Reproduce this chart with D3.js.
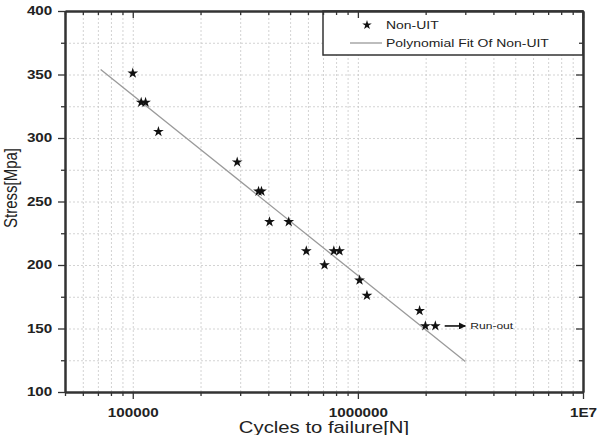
<!DOCTYPE html>
<meta charset="utf-8">
<script src="https://cdn.jsdelivr.net/npm/d3@7"></script>
<style>
body { margin: 0; background: #fff; }
text { font-family: "Liberation Sans", Arial, sans-serif; fill: #222; }
</style>
<body>
<script>

var width = 601
var height = 435
var sx = 1.27   // the source picture is stretched sideways, text too

// measured points
var cycles = [100000, 109000, 114000, 130000, 291000, 362000, 373000, 405000, 493000,
              590000, 711000, 782000, 829000, 1017000, 1097000, 1880000, 1994000, 2208000]
var stress = [351, 328, 328, 305, 281, 258, 258, 234, 234,
              211, 200, 211, 211, 188, 176, 164, 152, 152]

// fitted line ends
var fitCycles = [72000, 3000000]
var fitStress = [354, 124]

// run-out arrow
var runoutCycles = [2430000, 3000000]
var runoutStress = 152
var runoutLabel = "Run-out"

var xMajor = [100000, 1000000, 10000000]
var xMajorLabels = ["100000", "1000000", "1E7"]
var xMinor = [50000, 60000, 70000, 80000, 90000,
              200000, 300000, 400000, 500000, 600000, 700000, 800000, 900000,
              2000000, 3000000, 4000000, 5000000, 6000000, 7000000, 8000000, 9000000]
var yMajor = [100, 150, 200, 250, 300, 350, 400]
var yMinor = [125, 175, 225, 275, 325, 375]
var legendLabels = ["Non-UIT", "Polynomial Fit Of Non-UIT"]

var x = d3.scaleLog().domain([50000, 10000000]).range([65, 583])
var y = d3.scaleLinear().domain([100, 400]).range([392, 11])

var svg = d3.select("body").append("svg")
    .attr("width", width)
    .attr("height", height)
    .style("display", "block")

svg.append("rect").attr("width", width).attr("height", height).attr("fill", "#fff")

// grid
svg.append("g")
    .attr("transform", "translate(0," + y(100) + ")")
    .call(d3.axisBottom(x).tickValues(xMajor.concat(xMinor)).tickSize(-(y(100) - y(400))).tickFormat(""))
    .call(g => g.select(".domain").remove())
    .selectAll("line").attr("stroke", "#c8c8c8").attr("stroke-width", 0.8).attr("stroke-dasharray", "2,2")

svg.append("g")
    .attr("transform", "translate(" + x(50000) + ",0)")
    .call(d3.axisLeft(y).tickValues(yMajor.concat(yMinor)).tickSize(-(x(1e7) - x(50000))).tickFormat(""))
    .call(g => g.select(".domain").remove())
    .selectAll("line").attr("stroke", "#c8c8c8").attr("stroke-width", 0.8).attr("stroke-dasharray", "2,2")

// fit line
var line = d3.line().x(function(d, i) { return x(d) }).y(function(d, i) { return y(fitStress[i]) })
svg.append("path")
    .attr("d", line(fitCycles))
    .attr("fill", "none")
    .attr("stroke", "#9a9a9a")
    .attr("stroke-width", 1.3)

// points
var star = d3.symbol().type(d3.symbolStar).size(36)
svg.append("g").selectAll("path")
    .data(cycles)
    .enter().append("path")
    .attr("d", star)
    .attr("transform", function(d, i) { return "translate(" + x(d) + "," + y(stress[i]) + ")" })
    .attr("fill", "#111")

// run-out arrow
svg.append("defs").append("marker")
    .attr("id", "head")
    .attr("viewBox", "0 0 10 10")
    .attr("refX", 9).attr("refY", 5)
    .attr("markerWidth", 7).attr("markerHeight", 7)
    .attr("markerUnits", "userSpaceOnUse")
    .attr("orient", "auto")
    .append("path").attr("d", "M0,0L10,5L0,10Z").attr("fill", "#111")

svg.append("line")
    .attr("x1", x(runoutCycles[0])).attr("x2", x(runoutCycles[1]))
    .attr("y1", y(runoutStress)).attr("y2", y(runoutStress))
    .attr("stroke", "#111").attr("stroke-width", 1.6)
    .attr("marker-end", "url(#head)")

svg.append("text")
    .attr("transform", "translate(" + (x(runoutCycles[1]) + 5) + "," + (y(runoutStress) + 3.5) + ") scale(" + sx + ",1)")
    .style("font-size", "9.5px")
    .text(runoutLabel)

// legend
var lg = svg.append("g")
lg.append("rect")
    .attr("x", 323).attr("y", 11).attr("width", 260).attr("height", 44)
    .attr("fill", "#fff").attr("stroke", "#333").attr("stroke-width", 1.5)
lg.append("path").attr("d", d3.symbol().type(d3.symbolStar).size(28)).attr("transform", "translate(367,25)").attr("fill", "#111")
lg.append("line").attr("x1", 350).attr("x2", 382).attr("y1", 43).attr("y2", 43)
    .attr("stroke", "#9a9a9a").attr("stroke-width", 1.3)
lg.selectAll("text").data(legendLabels).enter().append("text")
    .attr("transform", function(d, i) { return "translate(386," + (29 + i * 18) + ") scale(" + sx + ",1)" })
    .style("font-size", "11px")
    .text(function(d) { return d })

// axes
function frame(g) {
  g.select(".domain").attr("stroke", "#333").attr("stroke-width", 2)
  g.selectAll(".tick line").attr("stroke", "#333").attr("stroke-width", 1.3)
}

function stretchLabels(g) {
  g.selectAll(".tick text")
    .attr("transform", "scale(" + sx + ",1)")
    .style("font-size", "12px")
    .style("font-weight", "bold")
    .attr("fill", "#222")
}

// bottom
svg.append("g")
    .attr("transform", "translate(0," + y(100) + ")")
    .call(d3.axisBottom(x).tickValues(xMinor).tickSize(4).tickSizeOuter(0).tickFormat(""))
    .call(frame)
svg.append("g")
    .attr("transform", "translate(0," + y(100) + ")")
    .call(d3.axisBottom(x).tickValues(xMajor).tickSize(7).tickSizeOuter(0).tickPadding(9)
          .tickFormat(function(d, i) { return xMajorLabels[i] }))
    .call(frame)
    .call(stretchLabels)

// top, ticks inside
svg.append("g")
    .attr("transform", "translate(0," + y(400) + ")")
    .call(d3.axisBottom(x).tickValues(xMinor).tickSize(4).tickSizeOuter(0).tickFormat(""))
    .call(frame)
svg.append("g")
    .attr("transform", "translate(0," + y(400) + ")")
    .call(d3.axisBottom(x).tickValues(xMajor).tickSize(7).tickSizeOuter(0).tickFormat(""))
    .call(frame)

// left
svg.append("g")
    .attr("transform", "translate(" + x(50000) + ",0)")
    .call(d3.axisLeft(y).tickValues(yMinor).tickSize(4).tickSizeOuter(0).tickFormat(""))
    .call(frame)
svg.append("g")
    .attr("transform", "translate(" + x(50000) + ",0)")
    .call(d3.axisLeft(y).tickValues(yMajor).tickSize(7).tickSizeOuter(0).tickPadding(3))
    .call(frame)
    .call(stretchLabels)

// right, ticks inside
svg.append("g")
    .attr("transform", "translate(" + x(1e7) + ",0)")
    .call(d3.axisLeft(y).tickValues(yMinor).tickSize(4).tickSizeOuter(0).tickFormat(""))
    .call(frame)
svg.append("g")
    .attr("transform", "translate(" + x(1e7) + ",0)")
    .call(d3.axisLeft(y).tickValues(yMajor).tickSize(7).tickSizeOuter(0).tickFormat(""))
    .call(frame)

// axis titles
svg.append("text")
    .attr("transform", "translate(" + ((x(50000) + x(1e7)) / 2) + ",433) scale(" + sx + ",1)")
    .style("text-anchor", "middle")
    .style("font-size", "16px")
    .attr("fill", "#333")
    .text("Cycles to failure[N]")

svg.append("text")
    .attr("transform", "translate(16.5,188) scale(" + sx + ",1) rotate(-90)")
    .style("text-anchor", "middle")
    .style("font-size", "15px")
    .attr("fill", "#333")
    .text("Stress[Mpa]")

</script>
</body>
